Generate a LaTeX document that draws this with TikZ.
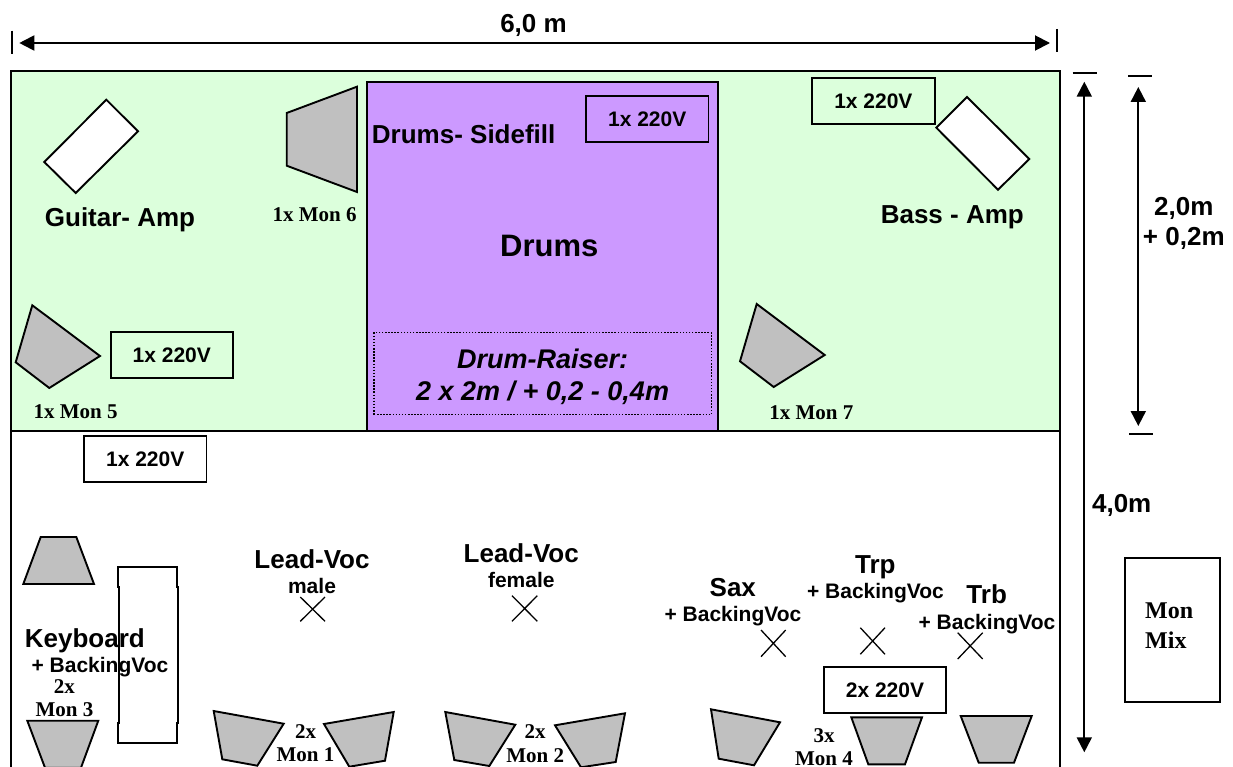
\documentclass[tikz,border=0pt]{standalone}
\usepackage{fontspec}
\setmainfont{Liberation Sans}
\newfontfamily\serifb{Liberation Serif}[BoldFont=* Bold]
\usetikzlibrary{arrows.meta}
\definecolor{stagegreen}{HTML}{DCFFDC}
\definecolor{drumpurple}{HTML}{CC99FF}
\definecolor{mongray}{HTML}{C0C0C0}
\tikzset{
  x=1pt,y=-1pt,
  outline/.style={draw=black,line width=1.9pt,line join=miter},
  mon/.style={outline,fill=mongray},
  amp/.style={outline,fill=white},
  powerbox/.style={outline,inner sep=0pt,font=\bfseries\fontsize{21}{23}\selectfont,minimum height=46pt,minimum width=122.5pt},
  labbig/.style={anchor=base,inner sep=0pt,yshift=-1.2pt,font=\bfseries\fontsize{26}{29.7}\selectfont,align=center},
  labsmall/.style={anchor=base,inner sep=0pt,font=\bfseries\fontsize{21}{23}\selectfont},
  labserif/.style={anchor=base,inner sep=0pt,font=\serifb\bfseries\fontsize{21}{23.4}\selectfont,align=center},
  dim/.style={draw=black,line width=1.9pt,{Triangle[length=15pt,width=15pt]}-{Triangle[length=15pt,width=15pt]}},
  dimend/.style={draw=black,line width=1.9pt},
  crossmark/.style={draw=black,line width=1.3pt},
}
\begin{document}
\begin{tikzpicture}
\path[clip] (0,0) rectangle (1233,767);
\fill[white] (0,0) rectangle (1233,767);
% stage
\path[draw=black,line width=2pt,fill=white] (11,71.5) rectangle (1059.7,790);
\path[draw=black,line width=2pt,fill=stagegreen] (11,71.5) rectangle (1059.7,431);
% drums
\node[draw=black,line width=2pt,fill=drumpurple,minimum width=350.7pt,minimum height=349pt,inner sep=0pt] (drumarea) at (542.6,256.5) {};
\node[draw=black,line width=1.5pt,dash pattern=on 1.5pt off 1.6pt,minimum width=337.3pt,minimum height=82pt,inner sep=0pt] (raiser) at (542.6,373.7) {};
% speakers and amps
\draw[amp] (106.3,99.7) -- (138,131.3) -- (75.7,193) -- (44.3,162) -- cycle;
\draw[amp] (967,97) -- (1029.3,159) -- (998,189.7) -- (936.3,127.7) -- cycle;
\draw[mon] (286.7,113) -- (357,86.7) -- (357,192) -- (286.7,165.7) -- cycle;
\draw[mon] (32.3,305.3) -- (100,356) -- (49.3,388) -- (15.7,362.3) -- cycle;
\draw[mon] (756.7,304) -- (824.7,355) -- (773.7,387) -- (740,361.3) -- cycle;
\draw[mon] (40.7,537) -- (76.3,537) -- (94,584) -- (23.3,584) -- cycle;
\draw[mon] (27.3,720.7) -- (98.3,720.7) -- (81,767.7) -- (45,767.7) -- cycle;
\draw[mon] (213.7,711) -- (283.7,723.7) -- (257.3,765.7) -- (222.3,759.3) -- cycle;
\draw[mon] (324,724) -- (393.7,712) -- (385,760.7) -- (349.3,766.7) -- cycle;
\draw[mon] (445.3,712) -- (515.3,724.7) -- (489.3,766) -- (454.3,760) -- cycle;
\draw[mon] (555,725.3) -- (625,713.3) -- (615.7,762) -- (581,767.3) -- cycle;
\draw[mon] (711,709.3) -- (780,722.3) -- (754,765.3) -- (718.7,758.7) -- cycle;
\draw[mon] (851.3,717.3) -- (922,717.3) -- (905,764.3) -- (868.3,764.3) -- cycle;
\draw[mon] (960.7,716) -- (1031.7,716) -- (1014,762.7) -- (978.7,762.7) -- cycle;
% keyboard
\draw[amp] (118,567.3) -- (176.7,567.3) -- (176.7,587) -- (178,587) -- (178,723) -- (176.7,723) -- (176.7,742.7) -- (118,742.7) -- (118,723) -- (119,723) -- (119,587) -- (118,587) -- cycle;
% power boxes
\node[powerbox] (p1) at (171.8,355) {1x 220V};
\node[powerbox] (p2) at (647.2,118.9) {1x 220V};
\node[powerbox] (p3) at (873.4,101.2) {1x 220V};
\node[powerbox] (p4) at (145.2,459.3) {1x 220V};
\node[powerbox,fill=white] (p5) at (885,690.3) {2x 220V};
% mon mix
\node[outline,minimum width=94.7pt,minimum height=144pt,inner sep=0pt] (monmix) at (1172.3,630) {};
\node[labserif,align=left,anchor=base west,font=\serifb\bfseries\fontsize{24}{29.7}\selectfont] (monmixtext) at (1145,648) {Mon\\Mix};
% labels
\node[labbig] (guitar) at (120,225) {Guitar- Amp};
\node[labbig] (bass) at (952.3,222.7) {Bass - Amp};
\node[labbig] (side) at (463.7,142.7) {Drums- Sidefill};
\node[labbig,font=\bfseries\fontsize{31}{31}\selectfont] (drums) at (549.3,255) {Drums};
\node[labbig,font=\bfseries\itshape\fontsize{27}{31.6}\selectfont] (raisertext) at (542.6,399.3) {Drum-Raiser:\\2 x 2m / + 0,2 - 0,4m};
\node[labbig] (leadm) at (312,567.7) {Lead-Voc};
\node[labsmall] (male) at (312,593.3) {male};
\node[labbig] (leadf) at (521.2,561) {Lead-Voc};
\node[labsmall] (female) at (521.3,587.3) {female};
\node[labbig] (keyb) at (84.8,646.7) {Keyboard};
\node[labsmall] (keybv) at (100,672.7) {+ BackingVoc};
\node[labbig] (sax) at (732.8,595.7) {Sax};
\node[labsmall] (saxv) at (733,621.7) {+ BackingVoc};
\node[labbig] (trp) at (875.3,572.3) {Trp};
\node[labsmall] (trpv) at (875.5,598.3) {+ BackingVoc};
\node[labbig] (trb) at (986.7,602.7) {Trb};
\node[labsmall] (trbv) at (987,629) {+ BackingVoc};
\node[labserif] (m5) at (75.5,418.7) {1x Mon 5};
\node[labserif] (m6) at (314.5,222) {1x Mon 6};
\node[labserif] (m7) at (811.3,419.3) {1x Mon 7};
\node[labserif] (m3) at (64.4,716.7) {2x\\Mon 3};
\node[labserif] (m1) at (305.5,761.7) {2x\\Mon 1};
\node[labserif] (m2) at (535.2,762.3) {2x\\Mon 2};
\node[labserif] (m4) at (824,765.5) {3x\\Mon 4};
% position crosses
\draw[crossmark] (300.3,597) -- (325,621.3) (325,597) -- (300.3,621.3);
\draw[crossmark] (512,595.7) -- (537.3,621.3) (537.3,595.7) -- (512,621.3);
\draw[crossmark] (761,630) -- (785.7,656.7) (785.7,630) -- (761,656.7);
\draw[crossmark] (860.3,627.7) -- (885,654.3) (885,627.7) -- (860.3,654.3);
\draw[crossmark] (957.7,632.7) -- (982.7,659) (982.7,632.7) -- (957.7,659);
% dimensions
\coordinate (wl) at (19.3,43);
\coordinate (wr) at (1050,43);
\coordinate (hl) at (1084.3,81.7);
\coordinate (hb) at (1084.3,752.3);
\coordinate (sl) at (1138.3,87);
\coordinate (sb) at (1138.3,426);
\draw[dim] (wl) -- (wr);
\draw[dim] (hl) -- (hb);
\draw[dim] (sl) -- (sb);
\coordinate (t1a) at (12,30.7); \coordinate (t1b) at (12,54.3);
\coordinate (t2a) at (1056.7,29); \coordinate (t2b) at (1056.7,52.3);
\coordinate (t3a) at (1072.7,72.7); \coordinate (t3b) at (1096.7,72.7);
\coordinate (t4a) at (1128,75.7); \coordinate (t4b) at (1152,75.7);
\coordinate (t5a) at (1129.3,434.3); \coordinate (t5b) at (1153.3,434.3);
\draw[dimend] (t1a) -- (t1b);
\draw[dimend] (t2a) -- (t2b);
\draw[dimend] (t3a) -- (t3b);
\draw[dimend] (t4a) -- (t4b);
\draw[dimend] (t5a) -- (t5b);
\node[labbig] (w6) at (533.5,31) {6,0 m};
\node[labbig] (h2) at (1183.8,244) {2,0m\\+ 0,2m};
\node[labbig] (h4) at (1121.7,511.7) {4,0m};
\end{tikzpicture}
\end{document}
